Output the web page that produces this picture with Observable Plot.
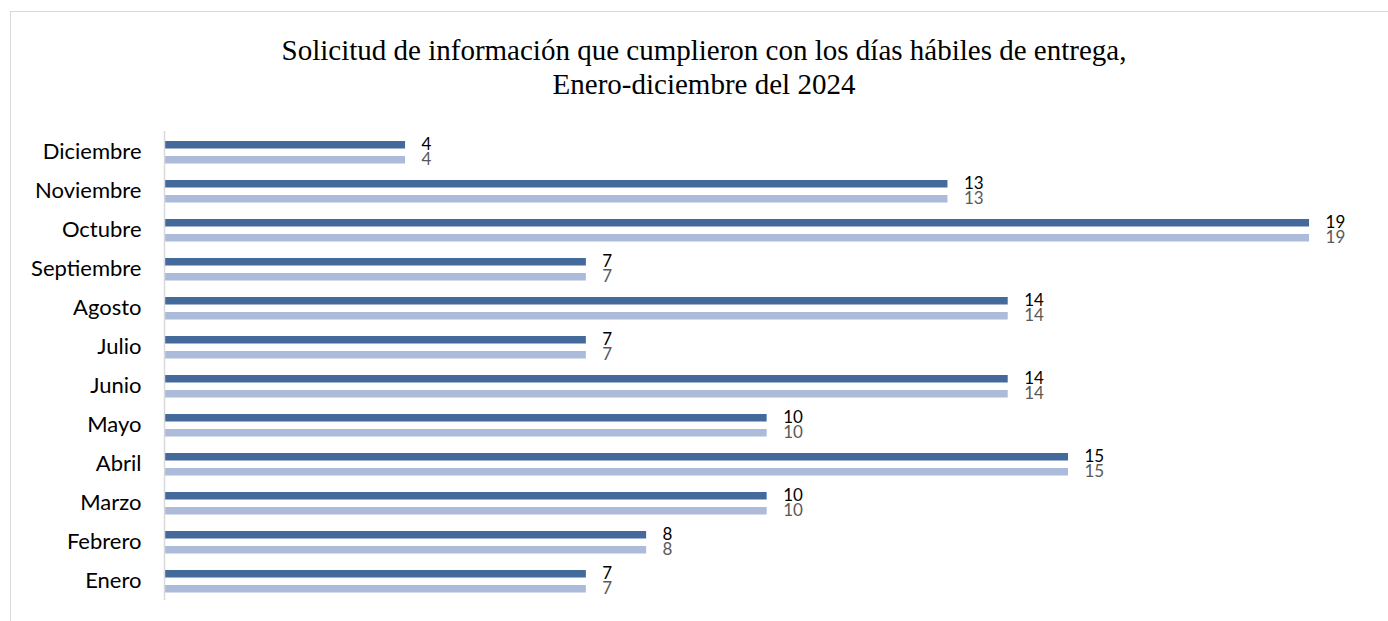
<!DOCTYPE html>
<html>
<head>
<meta charset="utf-8">
<script src="https://cdn.jsdelivr.net/npm/d3@7"></script>
<script src="https://cdn.jsdelivr.net/npm/@observablehq/plot@0.6"></script>
<style>
  html, body { margin: 0; padding: 0; background: #fff; }
  #wrap { position: relative; width: 1388px; height: 621px; overflow: hidden; }
  #frame { position: absolute; left: 10px; top: 11px; width: 1400px; height: 640px; border: 1px solid #d9d9d9; box-sizing: border-box; }
  #title { position: absolute; left: 0; top: 33px; width: 1408px; text-align: center;
           font-family: "Liberation Serif", "Times New Roman", serif; font-size: 29px; line-height: 34px; color: #000; }
  #chart { position: absolute; left: 0; top: 115px; }
</style>
</head>
<body>
<div id="wrap">
  <div id="frame"></div>
  <div id="title">Solicitud de información que cumplieron con los días hábiles de entrega,<br>Enero-diciembre del 2024</div>
  <div id="chart"></div>
</div>
<script>
const months = ["Enero", "Febrero", "Marzo", "Abril", "Mayo", "Junio", "Julio", "Agosto", "Septiembre", "Octubre", "Noviembre", "Diciembre"];
const seriesA = [7, 8, 10, 15, 10, 14, 7, 14, 7, 19, 13, 4];
const seriesB = [7, 8, 10, 15, 10, 14, 7, 14, 7, 19, 13, 4];

const dataA = months.map((m, i) => ({month: m, value: seriesA[i]}));
const dataB = months.map((m, i) => ({month: m, value: seriesB[i]}));

const font = "Lato, 'Open Sans', sans-serif";
const chart = Plot.plot({
  width: 1388,
  height: 506,
  marginLeft: 164,
  marginRight: 18.7,
  marginTop: 16,
  marginBottom: 21,
  style: {fontFamily: font, background: "transparent"},
  x: {domain: [0, 20], axis: null},
  y: {domain: months.slice().reverse(), padding: 0, label: null, tickSize: 0, tickPadding: 23},
  marks: [
    Plot.barX(dataA, {y: "month", x: "value", fill: "#44699b", insetTop: 9, insetBottom: 22.5}),
    Plot.barX(dataB, {y: "month", x: "value", fill: "#abbbd9", insetTop: 24, insetBottom: 7.5}),
    Plot.text(dataA, {y: "month", x: "value", text: d => String(d.value), dx: 16, dy: -7, textAnchor: "start", fill: "#000", fontSize: 17, fontFamily: font}),
    Plot.text(dataB, {y: "month", x: "value", text: d => String(d.value), dx: 16, dy: 8, textAnchor: "start", fill: "#595959", fontSize: 17, fontFamily: font}),
    Plot.axisY({tickSize: 0, tickPadding: 23, fontSize: 22, fill: "#000", label: null}),
    Plot.ruleX([0], {stroke: "#d9d9d9", strokeWidth: 1.5})
  ]
});
chart.querySelectorAll("g[aria-label='y-axis tick label'] text").forEach(t => t.setAttribute("font-size", 22));
document.getElementById("chart").appendChild(chart);
</script>
</body>
</html>
